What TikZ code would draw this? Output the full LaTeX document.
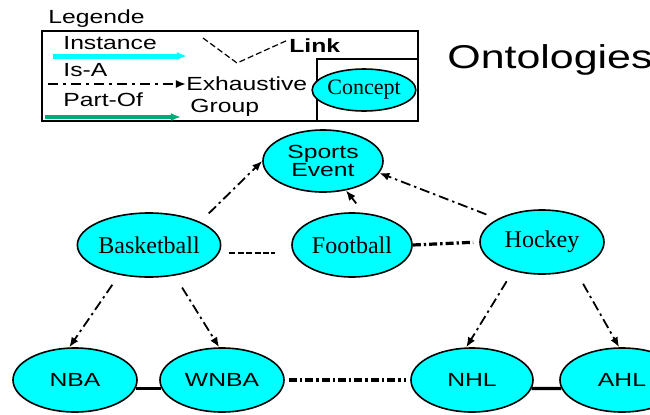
\documentclass[tikz,border=0pt]{standalone}
\usepackage{fontspec}
\setmainfont{Liberation Serif}
\newfontfamily\legfont[FakeStretch=1.3]{Liberation Sans}
\usetikzlibrary{shapes.geometric, arrows.meta}
\definecolor{aqua}{RGB}{0,255,255}
\definecolor{partgreen}{RGB}{0,170,120}
\begin{document}
\begin{tikzpicture}[x=0.5pt, y=-0.5pt, >={Latex[length=5pt,width=4pt]},
    concept/.style={ellipse, draw, line width=0.8pt, fill=aqua, inner sep=0pt,
      minimum width=61pt, minimum height=32pt, font=\fontsize{12}{12}\selectfont},
    sansconcept/.style={concept, font=\legfont\fontsize{9.5}{9}\selectfont},
    legtext/.style={anchor=base west, inner sep=0pt, font=\legfont\fontsize{9.5}{9}\selectfont},
    isa/.style={->, line width=0.9pt, dash pattern=on 5pt off 2pt on 1.2pt off 2pt},
    grouplink/.style={line width=1.6pt, dash pattern=on 4pt off 1.5pt on 1.2pt off 1.5pt},
    sibling/.style={line width=0.8pt, dash pattern=on 3pt off 1.2pt},
    partlink/.style={line width=1.6pt}]
  \useasboundingbox (0,0) rectangle (650,414);
  % legend
  \node[legtext] (legtitle) at (48,23) {Legende};
  \draw[line width=1.2pt] (42,31) rectangle (418,121);
  \draw[line width=1.2pt] (317,121) -- (317,59) -- (418,59);
  \node[legtext] (instance) at (63,49) {Instance};
  \coordinate (inst-a) at (53,56); \coordinate (inst-b) at (187,56);
  \draw[->, aqua, line width=2.5pt] (inst-a) -- (inst-b);
  \node[legtext] (isa) at (63,76) {Is-A};
  \coordinate (isa-a) at (48,84); \coordinate (isa-b) at (186,84);
  \draw[isa, line width=1.4pt, dash pattern=on 5pt off 2.5pt on 1.5pt off 2.5pt] (isa-a) -- (isa-b);
  \node[legtext] (exhaustive) at (186,90) {Exhaustive};
  \node[legtext] (group) at (190,112) {Group};
  \node[legtext] (partof) at (63,106) {Part-Of};
  \coordinate (part-a) at (45,117); \coordinate (part-b) at (181,117);
  \draw[->, partgreen, line width=1.8pt] (part-a) -- (part-b);
  \node[legtext, font=\legfont\bfseries\fontsize{9.5}{9}\selectfont] (link) at (289,52) {Link};
  \coordinate (link-a) at (203,38); \coordinate (link-b) at (237,63);
  \coordinate (link-c) at (288,40);
  \draw[line width=0.6pt, dash pattern=on 3pt off 1.5pt] (link-a) -- (link-b) -- (link-c);
  \node[concept, minimum width=40pt, minimum height=21pt, font=\fontsize{11}{11}\selectfont]
    (concept) at (364,90) {Concept};
  \node[anchor=base west, inner sep=0pt, font=\legfont\fontsize{16.5}{16.5}\selectfont]
    (title) at (447,68) {Ontologies};
  % ontology
  \node[sansconcept, align=center, minimum width=60pt, minimum height=31pt]
    (sports) at (323,161) {Sports\\Event};
  \node[concept] (basketball) at (149,245) {Basketball};
  \node[concept, minimum width=60pt] (football) at (352,245) {Football};
  \node[concept, minimum width=62pt] (hockey) at (542,242) {Hockey};
  \node[sansconcept, minimum width=62pt] (nba) at (75,380) {NBA};
  \node[sansconcept, minimum width=62pt] (wnba) at (222,380) {WNBA};
  \node[sansconcept, minimum width=61pt] (nhl) at (472,380) {NHL};
  \node[sansconcept, minimum width=62pt] (ahl) at (622,380) {AHL};
  \draw[isa, shorten <=6pt] (basketball.north east) -- (sports.west);
  \draw[isa, shorten <=6pt] (hockey.north west) -- (sports.-12);
  \draw[isa, shorten <=6pt] (football.70) -- (sports.-52);
  \draw[sibling, shorten <=4pt, shorten >=8pt] ([yshift=-4pt]basketball.east) -- ([yshift=-4pt]football.west);
  \draw[grouplink, shorten >=3pt] (football.east) -- (hockey.west);
  \draw[isa, shorten <=6pt] (basketball.-135) -- (nba.100);
  \draw[isa, shorten <=7pt] (basketball.-50) -- (wnba.95);
  \draw[isa, shorten <=6pt] (hockey.-135) -- (nhl.100);
  \draw[isa, shorten <=8pt] (hockey.-40) -- (ahl.95);
  \draw[partlink] (nba.-8) -- (wnba.188);
  \draw[grouplink, shorten <=2pt, shorten >=2pt] (wnba.east) -- (nhl.west);
  \draw[partlink] (nhl.-8) -- (ahl.188);
\end{tikzpicture}
\end{document}
